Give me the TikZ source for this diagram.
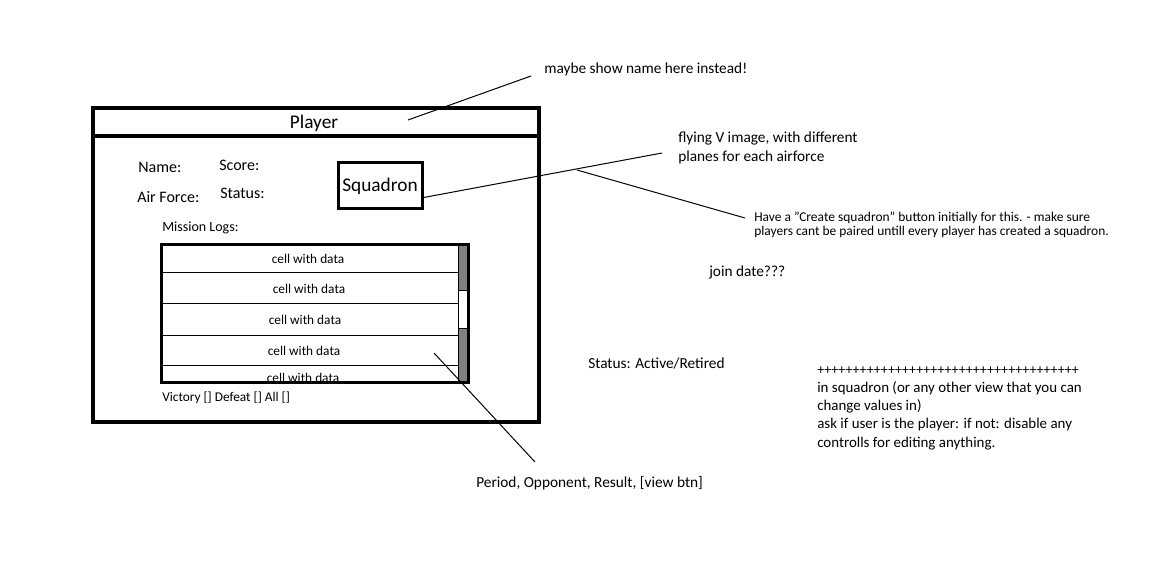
\documentclass[tikz,border=0pt]{standalone}
\usepackage{fontspec}
\setmainfont{Carlito}
\usetikzlibrary{positioning}

\tikzset{
  note/.style={anchor=west, inner sep=0.75pt, font=\fontsize{11.5}{13.7}\selectfont, align=left},
  small note/.style={anchor=west, inner sep=0.75pt, font=\fontsize{10.1}{10.5}\selectfont, align=left},
  field/.style={anchor=west, inner sep=0.75pt, font=\fontsize{12}{14}\selectfont},
  cell/.style={inner sep=0.75pt, font=\fontsize{10}{12}\selectfont},
  pointer/.style={line width=0.75pt}
}

\begin{document}
\begin{tikzpicture}[x=0.75pt,y=0.75pt,yscale=-1,xscale=1]
\useasboundingbox (0,0) rectangle (1174,578);

% Player frame
\draw [line width=3pt] (93,108) rectangle (539,422);
\draw [line width=3pt] (93,136) -- (539,136);
\node (title) [inner sep=0.75pt, font=\fontsize{14.5}{16}\selectfont] at (314,123) {Player};

% Fields
\node (name) [field] at (137,167) {Name:};
\node (score) [field] at (218,165) {Score:};
\node (airforce) [field] at (136,197) {Air Force:};
\node (status) [field] at (219,193) {Status:};

% Squadron box
\draw [line width=2.25pt] (338,162) rectangle (422,208);
\node (squadron) [inner sep=0.75pt, font=\fontsize{14.5}{16}\selectfont] at (380,186) {Squadron};

% Mission logs list
\node (logs) [anchor=west, inner sep=0.75pt, font=\fontsize{10.5}{12}\selectfont] at (161,228) {Mission Logs:};
\fill [gray] (458,244) rectangle (468,290);
\fill [gray] (458,328) rectangle (468,382);
\draw [line width=0.75pt] (458,244) -- (458,382);
\draw [line width=0.75pt] (458,290) -- (468,290);
\draw [line width=0.75pt] (458,328) -- (468,328);
\foreach \y in {272,303,335,365}
  \draw [line width=0.75pt] (161,\y) -- (458,\y);
\node (cella) [cell] at (308,259) {cell with data};
\node (cellb) [cell] at (309,289) {cell with data};
\node (cellc) [cell] at (305,320) {cell with data};
\node (celld) [cell] at (304,351) {cell with data};
\begin{scope}
  \clip (161,366) rectangle (458,382);
  \node (celle) [cell] at (303,378) {cell with data};
\end{scope}
\draw [line width=2.25pt] (161,244) rectangle (468,382);
\node (filter) [anchor=west, inner sep=0.75pt, font=\fontsize{10}{12}\selectfont] at (161,398) {Victory [] Defeat [] All []};

% Notes
\node (namenote) [note] at (543,69) {maybe show name here instead!};
\node (vnote) [note] at (677,148) {flying V image, with different\\planes for each airforce};
\node (createnote) [small note] at (753,225) {Have a "Create squadron" button initially for this. - make sure\\players cant be paired untill every player has created a squadron.};
\node (joinnote) [note] at (708,272) {join date???};
\node (statusnote) [note] at (587,363) {Status: Active/Retired};
\node (rownote) [note] at (475,483) {Period, Opponent, Result, [view btn]};
\node (editnote) [note, font=\fontsize{11.2}{13.7}\selectfont] at (816,408) {{\fontsize{10.5}{13.7}\selectfont +++++++++++++++++++++++++++++++++++++}\\in squadron (or any other view that you can\\change values in)\\ask if user is the player: if not: disable any\\controlls for editing anything.};

% Pointers
\coordinate (titlept) at (408,120);
\coordinate (namept) at (531,76);
\coordinate (squadpt) at (421,198);
\coordinate (vpt) at (662,153);
\coordinate (bendpt) at (577,170);
\coordinate (creatept) at (745,218);
\coordinate (rowpt) at (434,353);
\coordinate (rowend) at (535,462);
\draw [pointer] (titlept) -- (namept);
\draw [pointer] (squadpt) -- (vpt);
\draw [pointer] (bendpt) -- (creatept);
\draw [pointer] (rowpt) -- (rowend);
\end{tikzpicture}
\end{document}
